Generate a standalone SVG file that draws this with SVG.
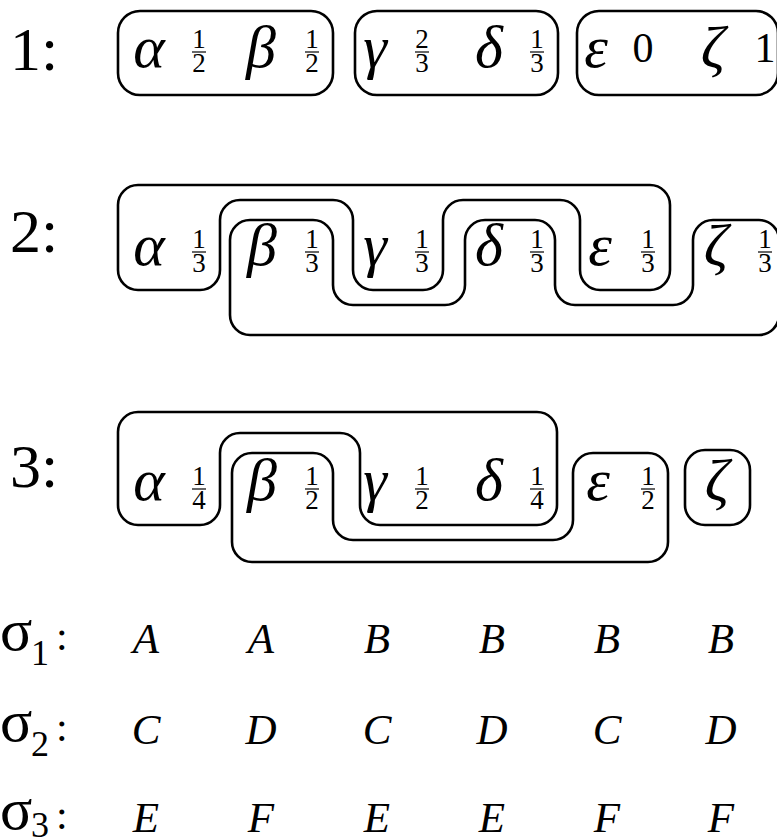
<svg xmlns="http://www.w3.org/2000/svg" width="777" height="837" viewBox="0 0 777 837">
<style>
  .box { fill: none; stroke: #000; stroke-width: 2.6; stroke-linejoin: round; }
  .lab { font-size: 62px; }
  .gr { font-style: italic; font-size: 60px; text-anchor: middle; }
  .fr { font-size: 27px; text-anchor: middle; }
  .num { font-size: 42px; text-anchor: middle; }
  .bar { stroke: #000; stroke-width: 1.2; }
  .let { font-style: italic; font-size: 43px; text-anchor: middle; }
  .sig { font-size: 60px; }
  .sub { font-size: 36px; }
  .col { font-size: 42px; }
</style>
<defs>
  <g id="f12" font-family="Liberation Serif, serif"><text class="fr" x="0" y="0">1</text><line class="bar" x1="-7" y1="4" x2="7" y2="4"/><text class="fr" x="0" y="24">2</text></g>
  <g id="f13" font-family="Liberation Serif, serif"><text class="fr" x="0" y="0">1</text><line class="bar" x1="-7" y1="4" x2="7" y2="4"/><text class="fr" x="0" y="24">3</text></g>
  <g id="f23" font-family="Liberation Serif, serif"><text class="fr" x="0" y="0">2</text><line class="bar" x1="-7" y1="4" x2="7" y2="4"/><text class="fr" x="0" y="24">3</text></g>
  <g id="f14" font-family="Liberation Serif, serif"><text class="fr" x="0" y="0">1</text><line class="bar" x1="-7" y1="4" x2="7" y2="4"/><text class="fr" x="0" y="24">4</text></g>
</defs>
<rect x="0" y="0" width="777" height="837" fill="#fff"/>

<g font-family="Liberation Serif, serif" fill="#000">
<!-- Row 1 -->
<g id="row1">
  <text class="lab" x="10" y="70">1:</text>
  <g id="r1-ab">
    <rect class="box" x="118" y="11" width="215" height="84" rx="22"/>
    <text class="gr" x="149" y="67">α</text>
    <use href="#f12" x="199" y="48"/>
    <text class="gr" x="261" y="67">β</text>
    <use href="#f12" x="312" y="48"/>
  </g>
  <g id="r1-gd">
    <rect class="box" x="355" y="11" width="203" height="84" rx="22"/>
    <text class="gr" x="375" y="67">γ</text>
    <use href="#f23" x="422" y="48"/>
    <text class="gr" x="489" y="67">δ</text>
    <use href="#f13" x="537" y="48"/>
  </g>
  <g id="r1-ez">
    <rect class="box" x="577" y="11" width="201" height="84" rx="22"/>
    <text class="gr" x="596" y="67">ε</text>
    <text class="num" x="643" y="62">0</text>
    <text class="gr" x="713" y="67">ζ</text>
    <text class="num" x="765" y="62">1</text>
  </g>
</g>

<!-- Row 2 -->
<g id="row2">
  <text class="lab" x="10" y="252">2:</text>
  <g id="r2-age">
    <path class="box" d="M118,205 A20,20 0 0 1 138,185 H650 A20,20 0 0 1 670,205 V270 A20,20 0 0 1 650,290 H600 A20,20 0 0 1 580,270 V220 A20,20 0 0 0 560,200 H463 A20,20 0 0 0 443,220 V270 A20,20 0 0 1 423,290 H373 A20,20 0 0 1 353,270 V220 A20,20 0 0 0 333,200 H240 A20,20 0 0 0 220,220 V270 A20,20 0 0 1 200,290 H138 A20,20 0 0 1 118,270 Z"/>
  </g>
  <g id="r2-bdz">
    <path class="box" d="M230,240 A20,20 0 0 1 250,220 H313 A20,20 0 0 1 333,240 V285 A20,20 0 0 0 353,305 H445 A20,20 0 0 0 465,285 V240 A20,20 0 0 1 485,220 H535 A20,20 0 0 1 555,240 V285 A20,20 0 0 0 575,305 H673 A20,20 0 0 0 693,285 V240 A20,20 0 0 1 713,220 H759 A20,20 0 0 1 779,240 V315 A20,20 0 0 1 759,335 H250 A20,20 0 0 1 230,315 Z"/>
  </g>
  <g id="r2-labels">
    <text class="gr" x="149" y="265">α</text>
    <use href="#f13" x="199" y="248"/>
    <text class="gr" x="262" y="265">β</text>
    <use href="#f13" x="312" y="248"/>
    <text class="gr" x="375" y="265">γ</text>
    <use href="#f13" x="422" y="248"/>
    <text class="gr" x="489" y="265">δ</text>
    <use href="#f13" x="537" y="248"/>
    <text class="gr" x="600" y="265">ε</text>
    <use href="#f13" x="648" y="248"/>
    <text class="gr" x="716" y="265">ζ</text>
    <use href="#f13" x="765" y="248"/>
  </g>
</g>

<!-- Row 3 -->
<g id="row3">
  <text class="lab" x="10" y="487">3:</text>
  <g id="r3-agd">
    <path class="box" d="M118,432 A20,20 0 0 1 138,412 H537 A20,20 0 0 1 557,432 V505 A20,20 0 0 1 537,525 H380 A20,20 0 0 1 360,505 V453 A20,20 0 0 0 340,433 H240 A20,20 0 0 0 220,453 V505 A20,20 0 0 1 200,525 H138 A20,20 0 0 1 118,505 Z"/>
  </g>
  <g id="r3-be">
    <path class="box" d="M232,473 A20,20 0 0 1 252,453 H313 A20,20 0 0 1 333,473 V520 A20,20 0 0 0 353,540 H553 A20,20 0 0 0 573,520 V473 A20,20 0 0 1 593,453 H648 A20,20 0 0 1 668,473 V542 A20,20 0 0 1 648,562 H252 A20,20 0 0 1 232,542 Z"/>
  </g>
  <g id="r3-z">
    <rect class="box" x="685" y="450" width="65" height="75" rx="20"/>
  </g>
  <g id="r3-labels">
    <text class="gr" x="149" y="500">α</text>
    <use href="#f14" x="199" y="485"/>
    <text class="gr" x="262" y="500">β</text>
    <use href="#f12" x="312" y="485"/>
    <text class="gr" x="375" y="500">γ</text>
    <use href="#f12" x="422" y="485"/>
    <text class="gr" x="489" y="500">δ</text>
    <use href="#f14" x="537" y="485"/>
    <text class="gr" x="598" y="500">ε</text>
    <use href="#f12" x="648" y="485"/>
    <text class="gr" x="717" y="500">ζ</text>
  </g>
</g>

<!-- Table -->
<g id="sigma1">
  <text class="sig" x="0" y="650">σ</text><text class="sub" x="31" y="665">1</text><text class="col" x="56" y="650">:</text>
  <text class="let" x="146" y="653">A</text>
  <text class="let" x="261" y="653">A</text>
  <text class="let" x="377" y="653">B</text>
  <text class="let" x="492" y="653">B</text>
  <text class="let" x="607" y="653">B</text>
  <text class="let" x="721" y="653">B</text>
</g>
<g id="sigma2">
  <text class="sig" x="0" y="741">σ</text><text class="sub" x="31" y="756">2</text><text class="col" x="56" y="741">:</text>
  <text class="let" x="146" y="744">C</text>
  <text class="let" x="261" y="744">D</text>
  <text class="let" x="377" y="744">C</text>
  <text class="let" x="492" y="744">D</text>
  <text class="let" x="607" y="744">C</text>
  <text class="let" x="721" y="744">D</text>
</g>
<g id="sigma3">
  <text class="sig" x="0" y="829">σ</text><text class="sub" x="31" y="837">3</text><text class="col" x="56" y="829">:</text>
  <text class="let" x="146" y="832">E</text>
  <text class="let" x="261" y="832">F</text>
  <text class="let" x="377" y="832">E</text>
  <text class="let" x="492" y="832">E</text>
  <text class="let" x="607" y="832">F</text>
  <text class="let" x="721" y="832">F</text>
</g>
</g>
</svg>
